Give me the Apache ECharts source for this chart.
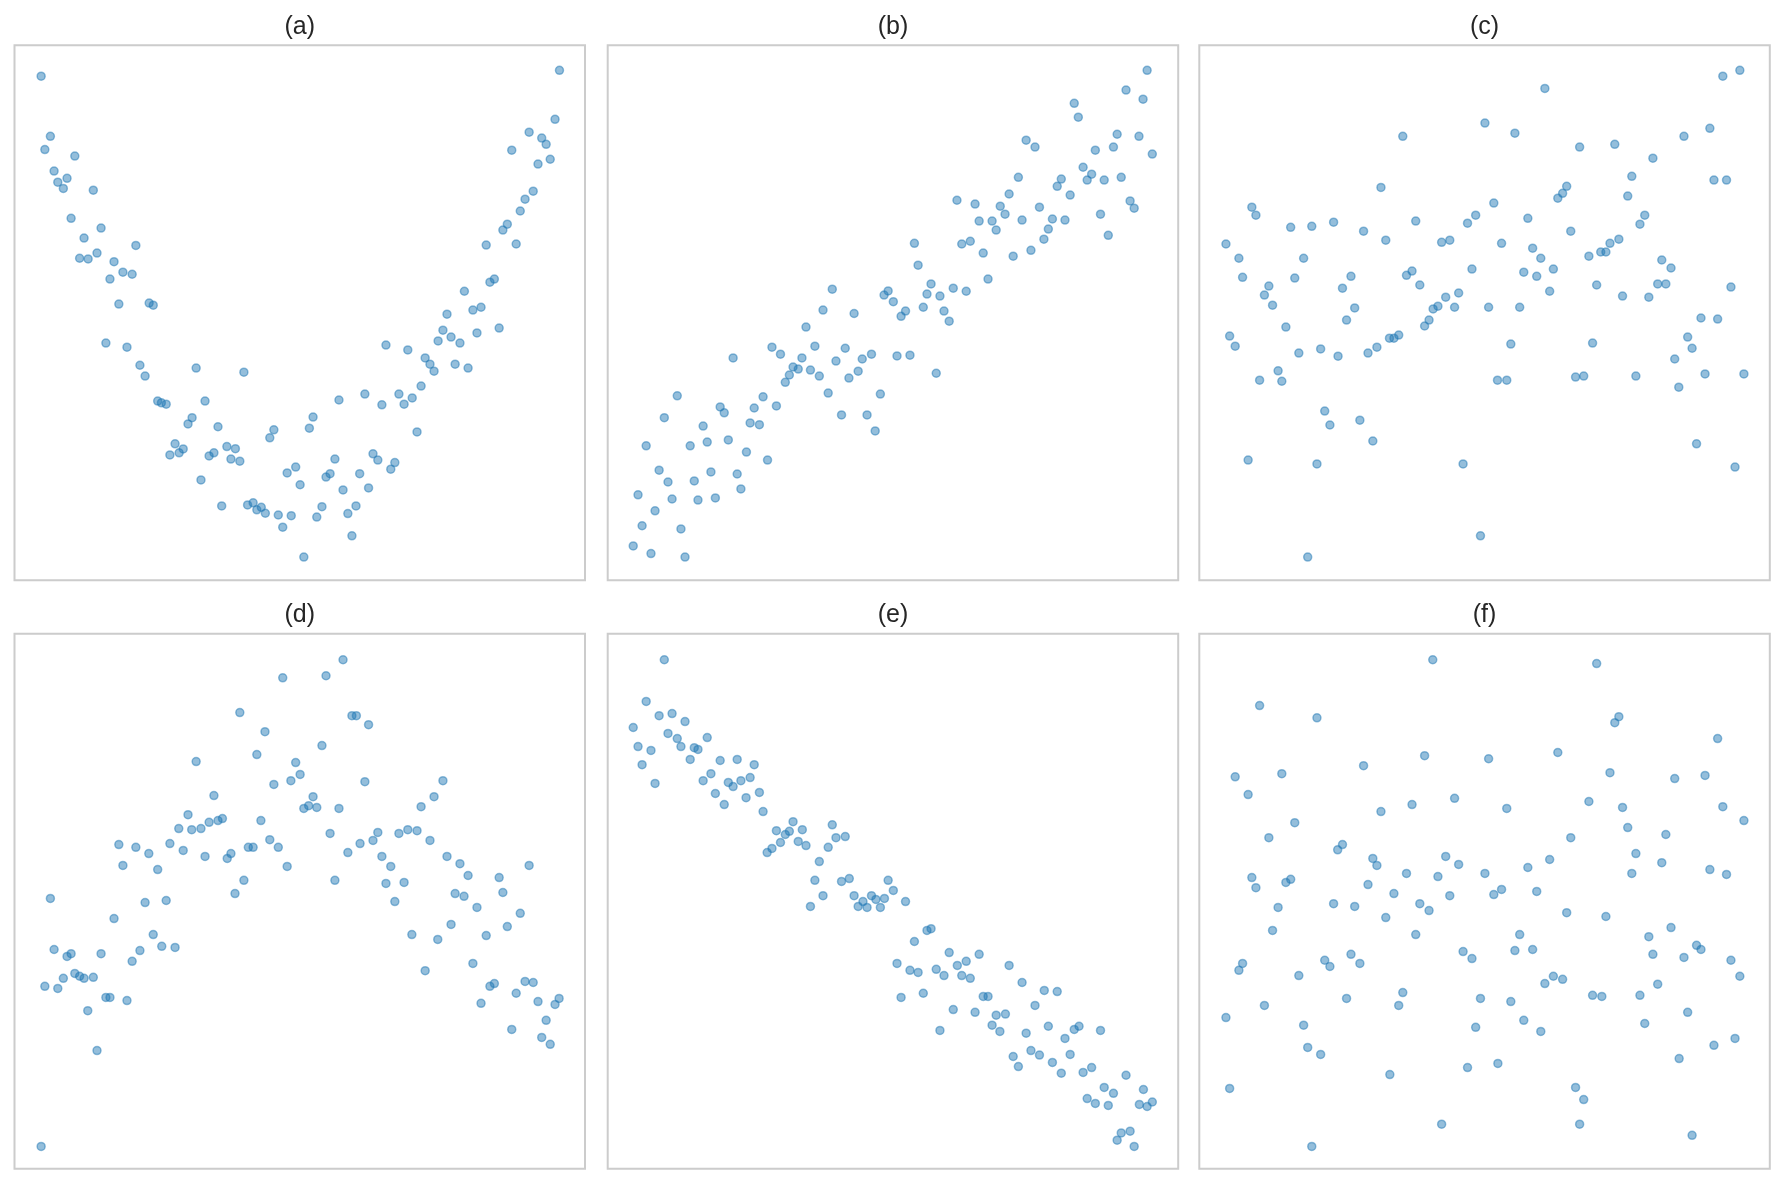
<!DOCTYPE html>
<html>
<head>
<meta charset="utf-8">
<title>scatter panels</title>
<script src="https://cdn.jsdelivr.net/npm/echarts@6/dist/echarts.min.js"></script>
<style>
  html, body { margin: 0; padding: 0; background: #fff; }
  #chart { width: 1785px; height: 1185px; }
</style>
</head>
<body>
<div id="chart"></div>
<script>
// ===== Data (x, y pairs, arbitrary units) =====
const panelTitles = ['(a)', '(b)', '(c)', '(d)', '(e)', '(f)'];
const xRange = [0, 154.2];
const yRange = [0, 154];

const panelA = [[7.2,145.1],[147.3,146.8],[9.7,127.8],[8.2,124.0],[16.3,122.1],[10.7,117.8],[14.2,115.7],[11.7,114.6],[13.2,112.8],[21.3,112.3],[15.3,104.2],[23.4,101.4],[18.8,98.5],[32.8,96.4],[22.3,94.2],[17.6,92.7],[19.9,92.5],[26.9,91.7],[29.3,88.7],[31.8,88.1],[25.8,86.7],[28.2,79.5],[36.4,79.8],[37.5,79.2],[24.7,68.3],[30.4,67.1],[33.9,61.9],[35.3,58.8],[49.1,61.1],[62.0,59.9],[38.7,51.6],[39.7,51.1],[41.0,50.7],[51.5,51.6],[48.0,46.8],[46.9,45.0],[55.0,44.2],[70.1,43.3],[69.0,41.0],[79.7,43.8],[80.7,47.0],[87.7,51.9],[94.7,53.6],[99.3,50.5],[103.9,53.6],[105.3,50.7],[107.5,52.5],[109.9,55.9],[108.8,42.7],[43.4,39.3],[45.6,37.8],[44.5,36.7],[42.0,36.1],[53.9,36.7],[52.6,35.8],[57.4,38.5],[59.7,37.9],[58.5,34.9],[60.9,34.3],[50.4,28.9],[73.7,30.9],[76.0,32.6],[77.2,27.5],[86.6,34.9],[85.3,30.7],[84.2,29.7],[93.3,30.7],[96.9,36.4],[98.2,34.6],[102.8,33.9],[101.7,32.0],[95.7,26.6],[88.8,26.0],[56.0,21.4],[63.0,21.7],[64.5,22.3],[65.5,20.3],[66.7,21.0],[67.8,19.3],[71.3,18.8],[74.8,18.6],[72.5,15.3],[83.1,21.2],[81.7,18.2],[90.1,19.2],[92.3,21.4],[91.2,12.8],[78.2,6.7],[100.4,67.7],[106.3,66.3],[111.0,64.0],[112.3,62.2],[113.4,60.2],[114.5,68.9],[115.8,72.0],[118.0,70.0],[120.4,68.3],[116.9,76.6],[119.1,62.2],[122.6,61.1],[121.6,83.2],[123.9,77.8],[126.1,78.6],[125.0,71.2],[131.0,72.6],[128.5,85.8],[129.7,86.7],[127.5,96.5],[135.6,96.8],[132.0,100.8],[133.2,102.5],[136.7,106.3],[138.0,109.7],[140.2,112.0],[141.5,119.8],[144.8,121.2],[134.4,123.8],[139.1,129.0],[142.5,127.3],[143.7,125.5],[146.1,132.7]];

const panelB = [[145.8,146.8],[140.1,141.1],[144.7,138.5],[126.1,137.3],[127.2,133.3],[137.7,128.4],[143.6,127.8],[113.1,126.7],[115.5,124.7],[136.7,124.7],[131.8,123.8],[147.2,122.7],[128.5,118.9],[130.8,116.9],[129.6,115.2],[134.2,115.2],[138.8,116.0],[111.0,116.0],[122.6,115.5],[121.5,113.4],[108.5,111.2],[125.0,110.9],[94.4,109.4],[99.3,108.3],[106.1,107.7],[107.4,105.4],[116.7,107.4],[141.2,109.2],[142.3,107.1],[133.2,105.4],[100.4,103.4],[103.9,103.4],[112.0,103.7],[120.2,104.0],[123.6,103.7],[105.0,100.8],[119.1,101.1],[117.9,98.2],[135.3,99.3],[82.9,97.0],[95.7,96.8],[98.0,97.6],[101.5,94.2],[109.6,93.3],[114.4,95.0],[83.9,90.7],[102.8,86.7],[87.4,85.3],[93.4,84.1],[96.9,83.2],[86.3,82.4],[89.8,81.8],[60.7,83.8],[74.7,82.1],[75.8,83.3],[77.2,80.2],[85.3,78.6],[80.5,77.5],[79.3,76.0],[90.9,77.5],[92.3,74.6],[58.2,77.8],[66.6,76.8],[53.6,72.9],[44.4,67.1],[46.7,65.1],[56.0,67.4],[64.2,66.8],[33.9,64.0],[52.5,64.0],[61.7,63.1],[68.8,63.7],[71.3,65.1],[78.2,64.6],[81.7,64.8],[50.1,61.4],[51.5,60.8],[54.8,60.5],[49.1,59.1],[57.2,58.8],[65.2,58.2],[67.7,60.2],[88.8,59.6],[48.0,57.0],[59.6,53.9],[73.7,53.6],[18.8,53.1],[42.0,52.8],[30.4,49.9],[39.6,49.6],[45.6,50.2],[31.5,48.2],[15.3,46.8],[63.2,47.6],[70.1,47.6],[25.8,44.4],[38.5,45.3],[41.0,44.8],[72.3,43.0],[10.4,38.7],[22.3,38.7],[26.9,39.8],[32.6,40.4],[37.5,36.9],[43.2,34.6],[13.9,31.7],[16.3,28.3],[23.4,28.6],[27.9,31.2],[35.0,30.6],[36.0,26.3],[8.2,24.6],[17.4,23.4],[24.4,23.1],[29.1,23.7],[12.8,20.0],[9.3,15.7],[19.8,14.8],[6.9,9.9],[11.7,7.7],[20.9,6.7]];

const panelC = [[146.1,146.8],[141.5,145.1],[93.4,141.6],[77.2,131.6],[85.3,128.7],[55.0,127.8],[138.0,130.1],[131.0,127.8],[102.8,124.7],[112.3,125.5],[122.6,121.5],[116.9,116.3],[139.1,115.2],[142.5,115.2],[49.1,113.1],[99.3,113.4],[98.2,111.4],[96.9,110.0],[115.8,110.6],[79.6,108.6],[14.2,107.4],[15.3,105.1],[74.7,105.1],[120.4,105.1],[72.5,102.8],[88.8,104.2],[119.1,102.5],[36.3,103.1],[24.7,101.6],[30.4,101.9],[58.5,103.4],[44.4,100.5],[100.4,100.5],[50.4,97.9],[65.5,97.3],[67.7,97.9],[81.7,97.0],[113.4,98.2],[111.0,97.0],[7.2,96.8],[90.1,95.6],[108.5,94.5],[109.9,94.5],[10.7,92.7],[28.2,92.7],[92.3,92.7],[105.3,93.3],[125.0,92.2],[127.5,89.9],[73.7,89.6],[95.7,89.6],[57.5,89.0],[56.0,87.8],[87.7,88.7],[11.7,87.2],[25.8,87.0],[41.0,87.5],[91.2,87.5],[18.8,84.7],[38.7,84.1],[59.6,85.0],[107.4,85.0],[123.9,85.3],[126.1,85.3],[143.7,84.4],[17.6,82.1],[70.1,82.7],[94.7,83.2],[66.6,81.5],[114.4,81.8],[121.5,81.5],[19.8,79.2],[42.0,78.4],[64.5,78.9],[63.2,78.1],[69.0,78.6],[78.2,78.6],[86.6,78.6],[39.8,74.9],[62.1,74.9],[60.9,73.2],[23.4,72.9],[135.6,75.5],[140.1,75.2],[53.9,70.6],[52.6,69.7],[51.4,69.7],[8.2,70.3],[9.7,67.4],[132.0,70.0],[84.2,68.0],[106.3,68.3],[133.2,66.8],[48.0,67.1],[45.6,65.4],[26.9,65.4],[32.8,66.6],[37.5,64.5],[128.5,63.7],[21.3,60.3],[16.3,57.6],[22.3,57.3],[80.6,57.6],[83.1,57.6],[101.7,58.5],[103.9,58.8],[118.0,58.8],[136.7,59.4],[147.2,59.4],[129.6,55.6],[33.9,48.7],[35.3,44.7],[43.4,46.1],[46.9,40.1],[134.4,39.3],[13.2,34.6],[31.8,33.5],[71.3,33.5],[144.8,32.6],[76.0,12.8],[29.3,6.7]];

const panelD = [[88.8,146.5],[72.5,141.3],[84.2,141.9],[60.9,131.3],[91.2,130.4],[92.4,130.4],[95.7,127.8],[67.7,125.8],[83.1,121.8],[65.5,119.2],[49.1,117.2],[76.0,116.9],[77.2,113.5],[74.7,111.7],[70.1,110.6],[94.7,111.4],[115.8,111.7],[53.9,107.4],[80.7,107.1],[79.5,104.5],[78.2,103.7],[81.7,104.0],[87.7,103.7],[113.4,107.1],[109.9,104.2],[46.9,101.9],[56.2,100.8],[55.0,100.2],[52.6,99.7],[66.6,100.2],[44.4,97.9],[47.9,97.6],[50.4,97.9],[85.3,96.5],[98.2,96.8],[103.9,96.5],[106.3,97.6],[108.8,97.3],[96.9,94.5],[112.3,94.5],[28.2,93.3],[32.8,92.5],[42.0,93.6],[45.6,91.6],[36.3,90.7],[63.2,92.5],[64.5,92.5],[69.0,94.7],[71.3,92.5],[93.4,93.6],[90.1,91.0],[51.5,89.9],[58.5,90.7],[57.5,89.3],[29.3,87.3],[38.7,86.1],[73.7,87.0],[99.3,89.9],[101.7,87.0],[116.9,89.9],[120.4,87.8],[139.1,87.3],[122.6,84.4],[131.0,83.8],[62.0,83.0],[86.6,83.0],[100.4,82.1],[105.3,82.4],[59.6,79.2],[119.1,79.2],[121.5,78.4],[132.0,79.5],[9.7,77.8],[35.3,76.6],[41.0,77.2],[102.8,76.9],[125.0,75.2],[136.7,73.5],[26.9,72.0],[118.0,70.3],[133.2,69.7],[37.5,67.4],[107.4,67.4],[127.5,67.1],[114.4,66.0],[39.8,64.0],[43.4,63.7],[10.7,63.1],[14.2,61.1],[15.3,61.9],[23.4,61.9],[33.9,62.8],[31.8,59.7],[123.9,59.1],[111.0,57.0],[16.3,56.2],[17.6,55.4],[18.8,54.8],[21.3,55.1],[13.2,54.8],[8.2,52.5],[11.7,51.9],[128.5,52.5],[129.7,53.3],[138.0,53.9],[140.2,53.6],[135.6,50.5],[24.7,49.3],[25.8,49.3],[30.4,48.4],[126.1,47.6],[141.5,48.1],[147.2,49.0],[146.1,47.3],[19.8,45.5],[143.7,42.7],[134.4,40.1],[142.5,37.8],[144.8,35.8],[22.3,34.0],[7.2,6.4]];

const panelE = [[15.3,146.5],[10.4,134.5],[13.9,130.4],[17.4,131.0],[20.9,128.7],[6.9,127.0],[16.3,125.3],[26.9,124.1],[18.8,123.8],[8.2,121.5],[19.8,121.5],[11.7,120.4],[23.4,121.2],[24.4,120.7],[22.3,117.8],[9.3,116.3],[30.4,117.5],[35.0,117.8],[39.6,116.3],[27.9,113.7],[12.8,110.9],[25.8,111.7],[32.6,111.2],[33.9,110.0],[36.0,111.7],[38.5,112.6],[41.0,108.3],[29.1,108.0],[37.4,106.8],[31.5,104.8],[42.0,102.8],[50.1,99.9],[45.6,97.3],[49.1,97.1],[48.0,96.2],[52.6,97.6],[60.7,99.0],[61.7,95.3],[64.2,95.6],[46.7,93.9],[51.5,94.2],[53.6,93.0],[44.4,92.2],[43.1,91.0],[59.6,92.5],[57.2,88.4],[56.0,83.0],[63.2,82.7],[65.3,83.5],[75.8,83.0],[77.2,80.1],[58.2,78.6],[66.6,78.6],[71.3,78.6],[69.0,76.9],[72.5,77.5],[74.8,77.8],[80.5,76.9],[54.8,75.5],[67.7,75.5],[70.1,75.2],[73.7,75.2],[86.3,68.6],[87.4,69.1],[82.9,65.4],[92.3,62.2],[100.4,61.7],[78.2,59.1],[94.5,58.5],[96.9,59.7],[108.5,58.5],[81.7,57.1],[83.9,56.5],[88.8,57.4],[90.9,55.6],[95.7,55.6],[98.0,54.8],[112.0,53.6],[118.0,51.3],[121.5,51.0],[79.3,49.3],[85.3,50.5],[101.5,49.6],[102.8,49.6],[115.5,47.0],[93.4,45.8],[99.3,45.0],[105.0,44.2],[107.5,44.5],[103.9,41.3],[106.0,39.5],[89.8,39.8],[113.1,39.0],[119.1,41.0],[126.1,40.1],[127.4,41.0],[133.2,39.8],[123.6,37.5],[114.4,34.0],[116.7,32.7],[125.0,32.9],[109.6,32.3],[111.0,29.4],[120.2,30.6],[122.6,27.5],[128.5,27.7],[130.8,29.1],[140.1,26.9],[134.2,23.4],[136.7,21.7],[144.8,22.8],[129.6,20.2],[131.8,18.8],[135.3,18.2],[143.7,18.5],[145.8,17.9],[147.2,19.2],[138.8,10.3],[141.2,10.8],[137.7,8.2],[142.3,6.4]];

const panelF = [[63.1,146.5],[107.4,145.4],[16.3,133.3],[31.8,129.8],[113.4,130.1],[112.3,128.4],[140.1,123.8],[96.9,119.8],[60.9,118.9],[78.2,118.0],[44.4,116.0],[22.3,113.7],[9.7,112.8],[111.0,114.0],[128.5,112.3],[136.7,113.2],[13.2,107.7],[69.0,106.6],[105.3,105.7],[49.1,102.8],[57.5,104.8],[83.1,103.7],[114.4,104.0],[141.5,104.2],[147.2,100.2],[25.8,99.6],[115.8,98.2],[126.1,96.2],[18.8,95.3],[100.4,95.3],[38.7,93.3],[37.4,91.8],[118.0,90.7],[66.6,89.9],[46.9,89.3],[48.0,87.3],[70.1,87.6],[94.7,89.0],[125.0,88.1],[88.8,86.7],[138.0,86.1],[56.0,85.0],[77.2,85.0],[116.9,85.0],[142.5,84.7],[14.2,83.8],[64.5,84.1],[24.7,83.3],[23.4,82.4],[15.3,80.9],[45.6,81.8],[81.7,80.4],[91.2,79.8],[52.6,79.2],[79.6,78.9],[67.7,78.6],[36.3,76.3],[59.6,76.3],[42.0,75.5],[21.3,75.2],[62.1,74.3],[99.3,73.7],[50.4,72.3],[109.9,72.6],[19.8,68.6],[58.5,67.4],[86.6,67.4],[127.5,69.4],[121.5,66.8],[85.3,62.8],[90.1,63.1],[134.4,64.3],[135.6,63.1],[71.3,62.5],[41.0,61.7],[122.6,61.7],[73.7,60.5],[131.0,60.8],[33.9,60.0],[11.7,59.1],[43.4,59.1],[35.3,58.2],[143.7,60.0],[10.7,57.1],[26.9,55.6],[95.7,55.4],[98.2,54.5],[146.1,55.4],[93.4,53.3],[123.9,53.1],[55.0,50.7],[39.8,49.0],[76.0,49.0],[106.3,49.9],[108.8,49.6],[119.1,49.9],[84.2,48.1],[17.6,47.0],[53.9,47.0],[132.0,45.0],[7.2,43.5],[87.7,42.7],[120.4,41.8],[28.2,41.3],[74.7,40.7],[92.3,39.5],[144.8,37.5],[139.1,35.5],[29.3,34.9],[32.8,32.9],[129.7,31.7],[80.7,30.3],[72.5,29.1],[51.5,27.1],[8.2,23.1],[101.7,23.4],[103.9,19.9],[65.5,12.8],[102.8,12.8],[133.2,9.6],[30.4,6.4]];

const panels = [panelA, panelB, panelC, panelD, panelE, panelF];

// ===== Layout =====
const colLeft = [14.5, 607.7, 1199.3];
const rowTop = [45.3, 633.7];
const cellW = 570.5, cellH = 535;
const titleGap = 31;

const grids = [], xAxes = [], yAxes = [], series = [], titles = [];
panels.forEach((data, i) => {
  const col = i % 3, row = Math.floor(i / 3);
  grids.push({
    left: colLeft[col], top: rowTop[row], width: cellW, height: cellH,
    show: true, borderColor: '#cccccc', borderWidth: 2, backgroundColor: 'transparent'
  });
  xAxes.push({ type: 'value', gridIndex: i, min: xRange[0], max: xRange[1], show: false });
  yAxes.push({ type: 'value', gridIndex: i, min: yRange[0], max: yRange[1], show: false });
  series.push({
    type: 'scatter', xAxisIndex: i, yAxisIndex: i, data: data,
    symbolSize: 8,
    itemStyle: { color: 'rgba(31,119,180,0.6)', borderColor: 'rgba(31,119,180,0.6)', borderWidth: 1.5 }
  });
  titles.push({
    text: panelTitles[i],
    left: colLeft[col] + cellW / 2, top: rowTop[row] - titleGap, textAlign: 'center',
    padding: 0,
    textStyle: { fontFamily: 'Liberation Sans', fontSize: 25, fontWeight: 'normal', color: '#262626' }
  });
});

const chart = echarts.init(document.getElementById('chart'), null, { renderer: 'canvas' });
chart.setOption({
  animation: false,
  backgroundColor: '#ffffff',
  title: titles,
  grid: grids,
  xAxis: xAxes,
  yAxis: yAxes,
  series: series
});
</script>
</body>
</html>
